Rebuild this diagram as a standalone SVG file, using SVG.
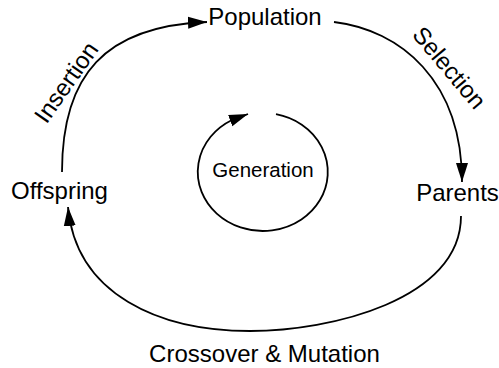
<svg xmlns="http://www.w3.org/2000/svg" width="499" height="368" viewBox="0 0 499 368">
  <style>
    .lbl { font-family: "Liberation Sans", Arial, Helvetica, sans-serif; font-size: 24px; fill: #000; text-anchor: middle; }
    .small { font-size: 20.5px; }
    .edge { fill: none; stroke: #000; stroke-width: 1.8; }
  </style>
  <defs>
    <marker id="arrow" markerUnits="userSpaceOnUse" markerWidth="20" markerHeight="14" viewBox="0 0 20 14" refX="19" refY="7" orient="auto">
      <path d="M0,1 L19,7 L0,13 Z" fill="#000"/>
    </marker>
  </defs>
  <rect width="499" height="368" fill="#fff"/>

  <g id="connectors">
    <path id="insertion" class="edge" d="M62,172 C62,75 105,26 207,22" marker-end="url(#arrow)"/>
    <path id="selection" class="edge" d="M334,22 C400,30 462,80 462,182" marker-end="url(#arrow)"/>
    <path id="crossover" class="edge" d="M461,216 C461,300 330,331 250,331 C160,331 76,295 68,207" marker-end="url(#arrow)"/>
    <path id="generation-loop" class="edge" d="M276,114.2 A65,59 0 1,1 232,120 L248,114" marker-end="url(#arrow)"/>
  </g>

  <g id="node-population"><text class="lbl" x="265" y="25">Population</text></g>
  <g id="node-parents"><text class="lbl" x="457.5" y="201">Parents</text></g>
  <g id="node-offspring"><text class="lbl" x="59.5" y="199">Offspring</text></g>
  <g id="node-generation"><text class="lbl small" x="263" y="177">Generation</text></g>

  <g id="edge-labels">
    <text class="lbl" transform="translate(73,87) rotate(-55)">Insertion</text>
    <text class="lbl" transform="translate(443,73) rotate(50)">Selection</text>
    <text class="lbl" x="264.5" y="362">Crossover &amp; Mutation</text>
  </g>
</svg>
